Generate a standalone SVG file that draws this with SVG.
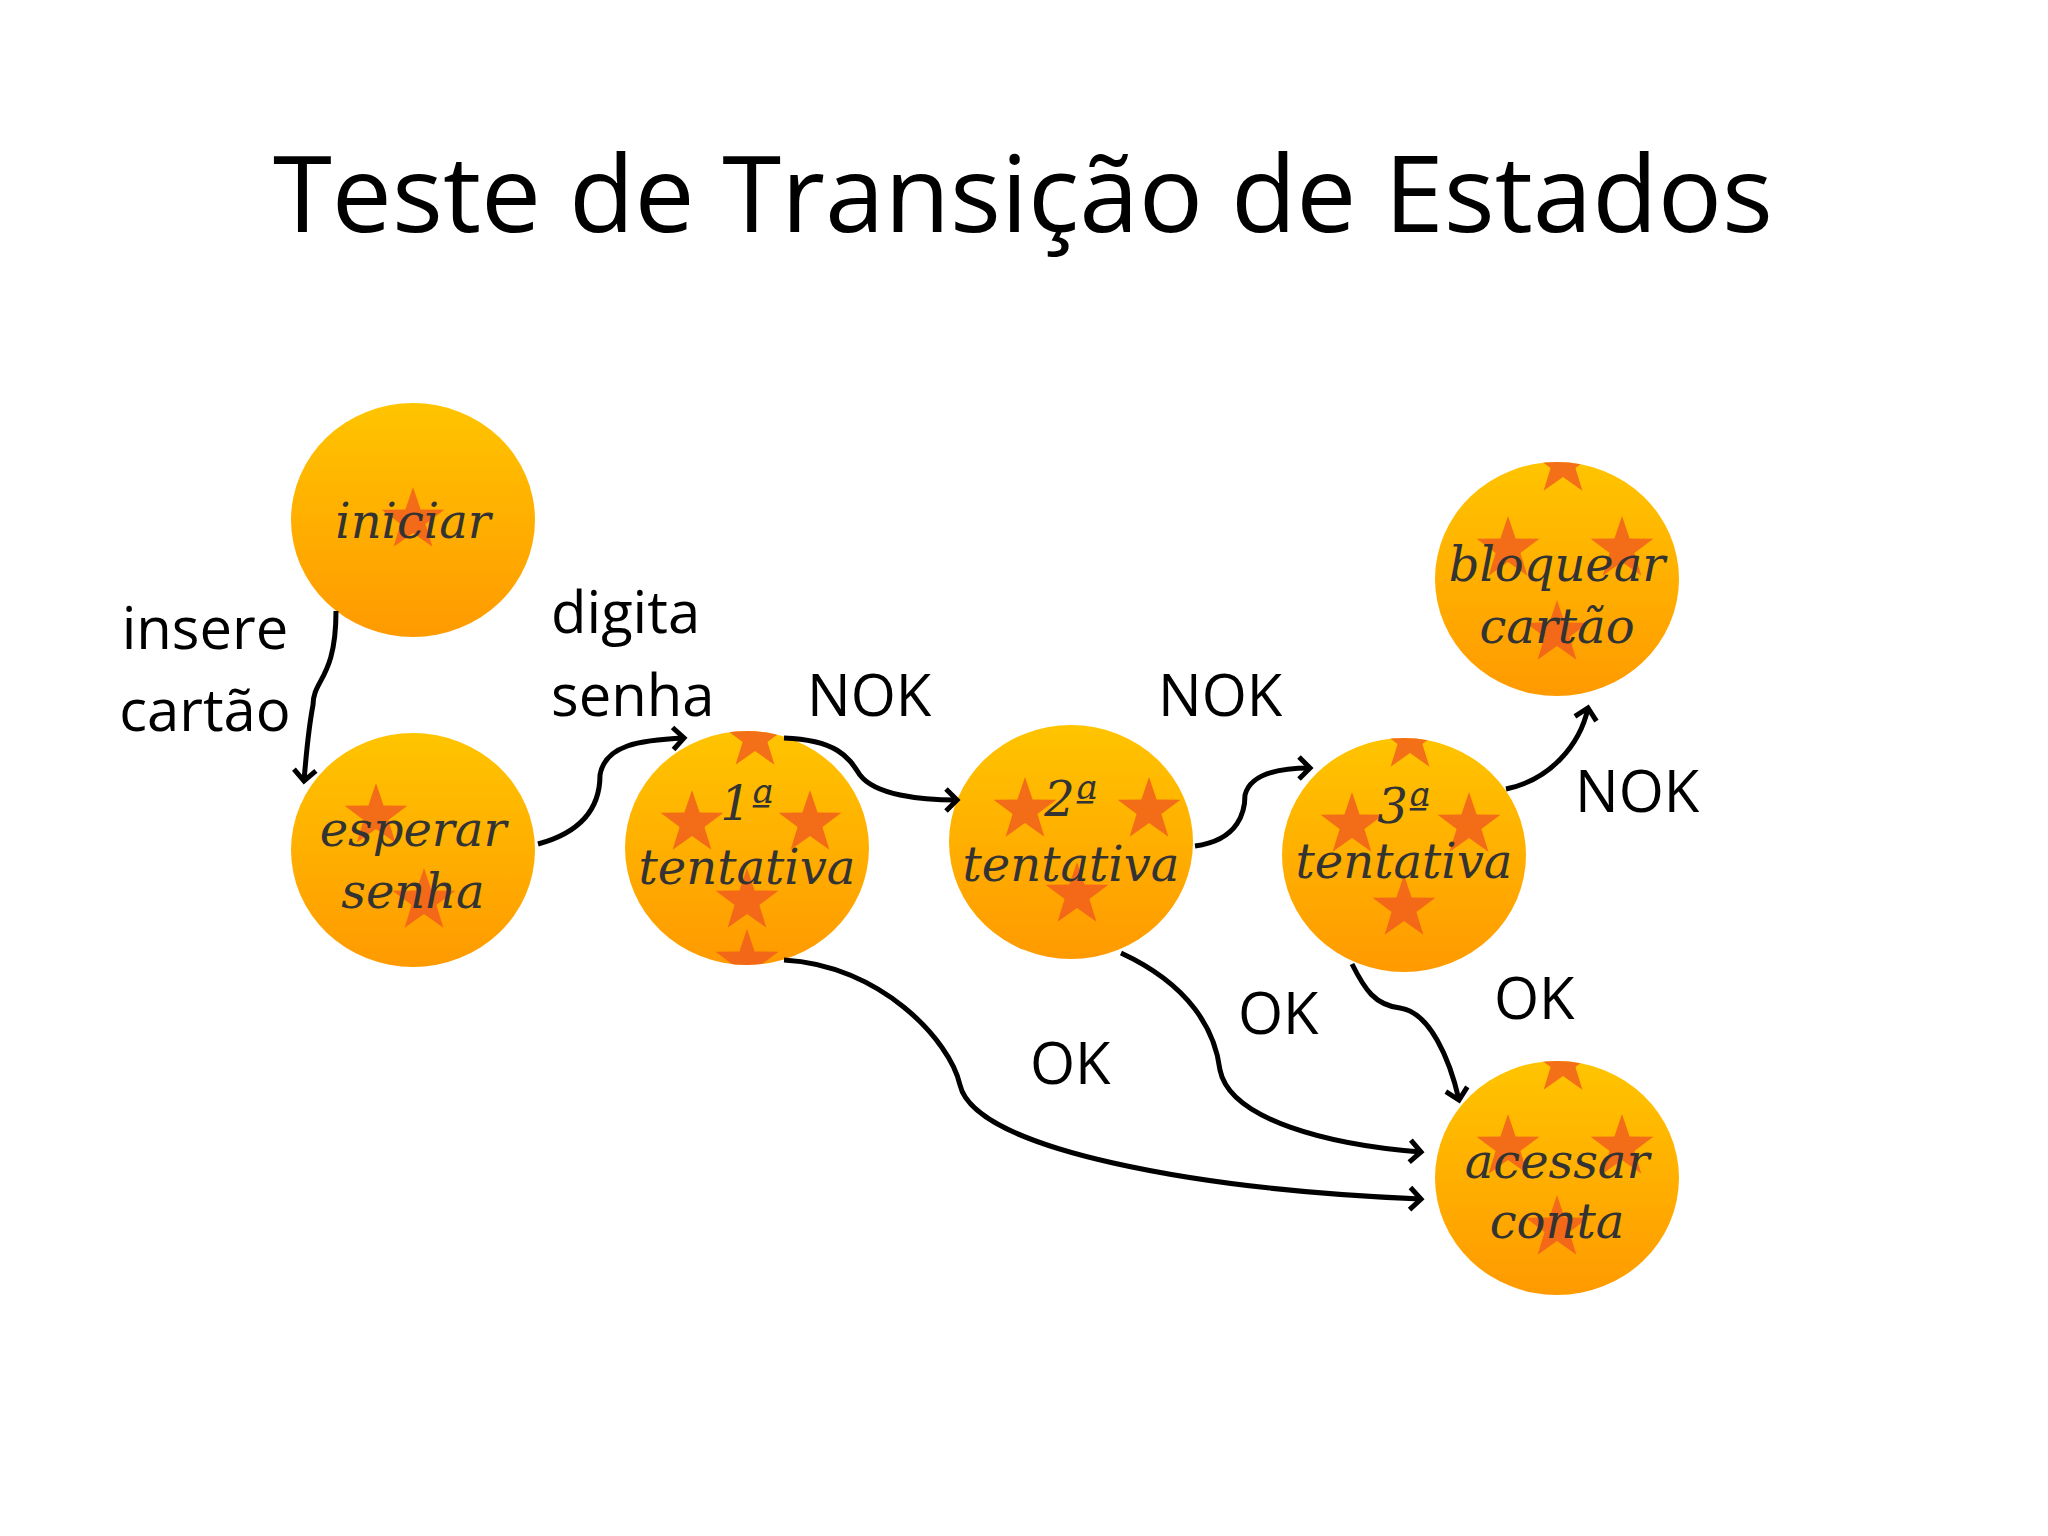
<svg xmlns="http://www.w3.org/2000/svg" width="2048" height="1536" viewBox="0 0 2048 1536">
<style>
.lbl{font-family:"Open Sans",sans-serif;font-size:58px;fill:#000}
.nt{font-family:"DejaVu Serif",serif;font-style:italic;font-size:48px;fill:#333;text-anchor:middle}
.ball{fill:url(#g)}
.st{fill:#f05a1e;opacity:.8}
.c{fill:none;stroke:#000;stroke-width:5}
</style>
<defs>
<linearGradient id="g" x1="0" y1="0" x2="0" y2="1"><stop offset="0" stop-color="#ffc400"/><stop offset="1" stop-color="#ff9a00"/></linearGradient>
<path id="s" d="M0,-33 L7.6,-10.5 31.4,-10.2 12.4,4 19.4,26.7 0,13 -19.4,26.7 -12.4,4 -31.4,-10.2 -7.6,-10.5Z"/>
<marker id="a" markerWidth="30" markerHeight="30" refX="14" refY="15" orient="auto" markerUnits="userSpaceOnUse"><path d="M3,4 L14,15 L3,26" fill="none" stroke="#000" stroke-width="5"/></marker>
<clipPath id="c1"><ellipse cx="747" cy="848" rx="122" ry="117"/></clipPath>
<clipPath id="c3"><ellipse cx="1404" cy="855" rx="122" ry="117"/></clipPath>
<clipPath id="c4"><ellipse cx="1557" cy="579" rx="122" ry="117"/></clipPath>
<clipPath id="c5"><ellipse cx="1557" cy="1178" rx="122" ry="117"/></clipPath>
</defs>
<rect width="2048" height="1536" fill="#fff"/>
<text x="1023" y="232" text-anchor="middle" style="font-family:'Open Sans',sans-serif;font-size:107px">Teste de Transição de Estados</text>
<g id="iniciar"><ellipse class="ball" cx="413" cy="520" rx="122" ry="117"/><use href="#s" class="st" x="413" y="520"/><text class="nt" x="413" y="538">iniciar</text></g>
<g id="esperar"><ellipse class="ball" cx="413" cy="850" rx="122" ry="117"/><use href="#s" class="st" x="376" y="816"/><use href="#s" class="st" x="424" y="901"/><text class="nt" x="413" y="846">esperar</text><text class="nt" x="413" y="908">senha</text></g>
<g id="t1"><ellipse class="ball" cx="747" cy="848" rx="122" ry="117"/><g clip-path="url(#c1)"><use href="#s" class="st" x="692" y="823"/><use href="#s" class="st" x="810" y="823"/><use href="#s" class="st" x="747" y="901"/><use href="#s" class="st" x="755" y="738"/><use href="#s" class="st" x="747" y="962"/></g><text class="nt" x="747" y="820">1ª</text><text class="nt" x="747" y="884">tentativa</text></g>
<g id="t2"><ellipse class="ball" cx="1071" cy="842" rx="122" ry="117"/><use href="#s" class="st" x="1025" y="810"/><use href="#s" class="st" x="1149" y="810"/><use href="#s" class="st" x="1077" y="895"/><text class="nt" x="1071" y="816">2ª</text><text class="nt" x="1071" y="881">tentativa</text></g>
<g id="t3"><ellipse class="ball" cx="1404" cy="855" rx="122" ry="117"/><g clip-path="url(#c3)"><use href="#s" class="st" x="1352" y="825"/><use href="#s" class="st" x="1469" y="825"/><use href="#s" class="st" x="1404" y="908"/><use href="#s" class="st" x="1410" y="740"/></g><text class="nt" x="1404" y="823">3ª</text><text class="nt" x="1404" y="878">tentativa</text></g>
<g id="bloquear"><ellipse class="ball" cx="1557" cy="579" rx="122" ry="117"/><g clip-path="url(#c4)"><use href="#s" class="st" x="1508" y="549"/><use href="#s" class="st" x="1622" y="549"/><use href="#s" class="st" x="1557" y="633"/><use href="#s" class="st" x="1563" y="464"/></g><text class="nt" x="1557" y="581">bloquear</text><text class="nt" x="1557" y="643">cartão</text></g>
<g id="acessar"><ellipse class="ball" cx="1557" cy="1178" rx="122" ry="117"/><g clip-path="url(#c5)"><use href="#s" class="st" x="1508" y="1147"/><use href="#s" class="st" x="1622" y="1147"/><use href="#s" class="st" x="1557" y="1228"/><use href="#s" class="st" x="1563" y="1063"/></g><text class="nt" x="1557" y="1178">acessar</text><text class="nt" x="1557" y="1238">conta</text></g>
<g id="connectors">
<path class="c" marker-end="url(#a)" d="M336 611 C336 679 313 679 313 705 C308 731 306 757 304 781"/>
<path class="c" marker-end="url(#a)" d="M538 844 C590 830 600 800 600 775 C605 745 640 740 684 738"/>
<path class="c" marker-end="url(#a)" d="M784 738 C840 740 850 760 860 775 C875 795 920 800 957 800"/>
<path class="c" marker-end="url(#a)" d="M1195 846 C1240 840 1245 810 1245 795 C1250 775 1275 768 1310 768"/>
<path class="c" marker-end="url(#a)" d="M1506 789 C1550 780 1580 745 1588 708"/>
<path class="c" marker-end="url(#a)" d="M1352 964 C1365 990 1375 1005 1400 1008 C1430 1012 1450 1060 1459 1100"/>
<path class="c" marker-end="url(#a)" d="M1121 953 C1190 985 1215 1030 1220 1070 C1230 1120 1330 1145 1421 1152"/>
<path class="c" marker-end="url(#a)" d="M784 960 C880 965 950 1040 960 1085 C975 1150 1200 1190 1421 1199"/>
</g>
<text class="lbl" x="205" y="649" text-anchor="middle">insere</text>
<text class="lbl" x="205" y="731" text-anchor="middle">cartão</text>
<text class="lbl" x="551" y="633">digita</text>
<text class="lbl" x="551" y="716">senha</text>
<text class="lbl" x="807" y="716">NOK</text>
<text class="lbl" x="1158" y="716">NOK</text>
<text class="lbl" x="1575" y="812">NOK</text>
<text class="lbl" x="1494" y="1019">OK</text>
<text class="lbl" x="1238" y="1034">OK</text>
<text class="lbl" x="1030" y="1084">OK</text>
</svg>
